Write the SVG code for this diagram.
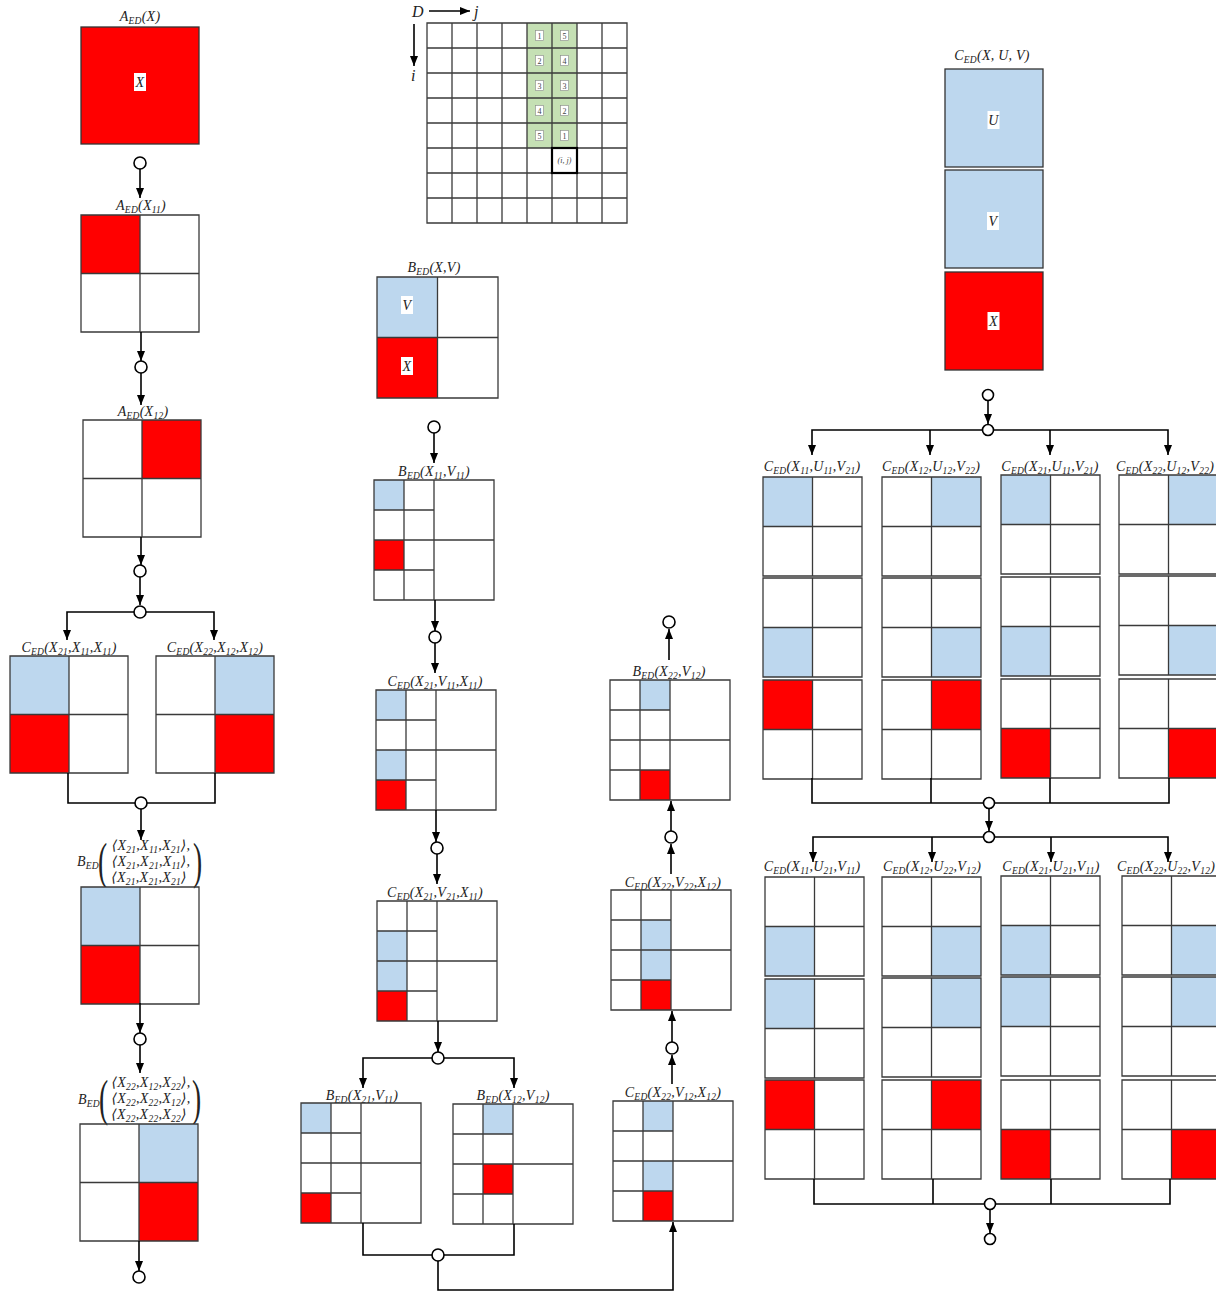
<svg xmlns="http://www.w3.org/2000/svg" xmlns:xlink="http://www.w3.org/1999/xlink" width="1216" height="1294" viewBox="0 0 1216 1294">
<style>
.gl{fill:none;stroke:#3a3a3a;stroke-width:1.3}
.r{fill:#ff0000}
.b{fill:#bdd7ee}
.g{fill:#c5e0b4}
.t{font-family:"Liberation Serif","DejaVu Serif",serif;font-style:italic;font-size:14px;fill:#222;letter-spacing:0.25px}
.s{font-size:9.5px}
.big{font-family:"Liberation Serif","DejaVu Serif",serif;font-size:50px;fill:#222}
.wb{fill:#fff}
.num{font-family:"Liberation Serif",serif;font-size:8px;fill:#444}
.nb{fill:#fff;stroke:#888;stroke-width:0.6}
.cn{fill:none;stroke:#000;stroke-width:1.6}
.ar{fill:none;stroke:#000;stroke-width:1.6;marker-end:url(#a)}
.nd{fill:#fff;stroke:#000;stroke-width:1.6}
</style>
<defs>
<marker id="a" viewBox="0 0 10 10" refX="10" refY="5" markerWidth="10" markerHeight="10" markerUnits="userSpaceOnUse" orient="auto"><path d="M0,1L10,5L0,9Z" fill="#000"/></marker>
<path id="q99" class="gl" d="M0,0H99V99H0Z M49.5,0V99 M0,49.5H99"/>
<path id="q118" class="gl" d="M0,0H118V117H0Z M59,0V117 M0,58.5H118"/>
<path id="q121" class="gl" d="M0,0H121V121H0Z M60.5,0V121 M0,60.5H121"/>
<path id="q4" class="gl" d="M0,0H120V120H0Z M30,0V120 M60,0V120 M0,60H120 M0,30H60 M0,90H60"/>
</defs>
<rect width="1216" height="1294" fill="#fff"/>

<!-- LEFT COLUMN -->
<g id="aX">
<text class="t" x="140" y="21" text-anchor="middle">A<tspan class="s" dy="3">ED</tspan><tspan dy="-3">(X)</tspan></text>
<rect class="r" x="81" y="27" width="118" height="117" stroke="#333" stroke-width="1.3"/>
<rect class="wb" x="134" y="73" width="12" height="18"/>
<text class="t" x="140" y="87" text-anchor="middle">X</text>
</g>
<g id="aX11">
<text class="t" x="141" y="210" text-anchor="middle">A<tspan class="s" dy="3">ED</tspan><tspan dy="-3">(X</tspan><tspan class="s" dy="3">11</tspan><tspan dy="-3">)</tspan></text>
<g transform="translate(81,215)"><rect class="r" width="59" height="58.5"/><use href="#q118"/></g>
</g>
<g id="aX12">
<text class="t" x="143" y="416" text-anchor="middle">A<tspan class="s" dy="3">ED</tspan><tspan dy="-3">(X</tspan><tspan class="s" dy="3">12</tspan><tspan dy="-3">)</tspan></text>
<g transform="translate(83,420)"><rect class="r" x="59" width="59" height="58.5"/><use href="#q118"/></g>
</g>
<g id="cL1">
<text class="t" x="69" y="652" text-anchor="middle">C<tspan class="s" dy="3">ED</tspan><tspan dy="-3">(X</tspan><tspan class="s" dy="3">21</tspan><tspan dy="-3">,X</tspan><tspan class="s" dy="3">11</tspan><tspan dy="-3">,X</tspan><tspan class="s" dy="3">11</tspan><tspan dy="-3">)</tspan></text>
<g transform="translate(10,656)"><rect class="b" width="59" height="58.5"/><rect class="r" y="58.5" width="59" height="58.5"/><use href="#q118"/></g>
</g>
<g id="cL2">
<text class="t" x="215" y="652" text-anchor="middle">C<tspan class="s" dy="3">ED</tspan><tspan dy="-3">(X</tspan><tspan class="s" dy="3">22</tspan><tspan dy="-3">,X</tspan><tspan class="s" dy="3">12</tspan><tspan dy="-3">,X</tspan><tspan class="s" dy="3">12</tspan><tspan dy="-3">)</tspan></text>
<g transform="translate(156,656)"><rect class="b" x="59" width="59" height="58.5"/><rect class="r" x="59" y="58.5" width="59" height="58.5"/><use href="#q118"/></g>
</g>
<g id="bL1">
<text class="t" x="77" y="866">B<tspan class="s" dy="3">ED</tspan></text>
<text class="big" x="98" y="878" transform="translate(98,862) scale(0.55,1) translate(-98,-862)">(</text>
<text class="big" x="193" y="878" transform="translate(193,862) scale(0.55,1) translate(-193,-862)">)</text>
<text class="t" x="151" y="850" text-anchor="middle">⟨X<tspan class="s" dy="3">21</tspan><tspan dy="-3">,X</tspan><tspan class="s" dy="3">11</tspan><tspan dy="-3">,X</tspan><tspan class="s" dy="3">21</tspan><tspan dy="-3">⟩,</tspan></text>
<text class="t" x="151" y="866" text-anchor="middle">⟨X<tspan class="s" dy="3">21</tspan><tspan dy="-3">,X</tspan><tspan class="s" dy="3">21</tspan><tspan dy="-3">,X</tspan><tspan class="s" dy="3">11</tspan><tspan dy="-3">⟩,</tspan></text>
<text class="t" x="149" y="882" text-anchor="middle">⟨X<tspan class="s" dy="3">21</tspan><tspan dy="-3">,X</tspan><tspan class="s" dy="3">21</tspan><tspan dy="-3">,X</tspan><tspan class="s" dy="3">21</tspan><tspan dy="-3">⟩</tspan></text>
<g transform="translate(81,887)"><rect class="b" width="59" height="58.5"/><rect class="r" y="58.5" width="59" height="58.5"/><use href="#q118"/></g>
</g>
<g id="bL2">
<text class="t" x="78" y="1104">B<tspan class="s" dy="3">ED</tspan></text>
<text class="big" x="99" y="1115" transform="translate(99,1099) scale(0.55,1) translate(-99,-1099)">(</text>
<text class="big" x="192" y="1115" transform="translate(192,1099) scale(0.55,1) translate(-192,-1099)">)</text>
<text class="t" x="151" y="1087" text-anchor="middle">⟨X<tspan class="s" dy="3">22</tspan><tspan dy="-3">,X</tspan><tspan class="s" dy="3">12</tspan><tspan dy="-3">,X</tspan><tspan class="s" dy="3">22</tspan><tspan dy="-3">⟩,</tspan></text>
<text class="t" x="151" y="1103" text-anchor="middle">⟨X<tspan class="s" dy="3">22</tspan><tspan dy="-3">,X</tspan><tspan class="s" dy="3">22</tspan><tspan dy="-3">,X</tspan><tspan class="s" dy="3">12</tspan><tspan dy="-3">⟩,</tspan></text>
<text class="t" x="149" y="1119" text-anchor="middle">⟨X<tspan class="s" dy="3">22</tspan><tspan dy="-3">,X</tspan><tspan class="s" dy="3">22</tspan><tspan dy="-3">,X</tspan><tspan class="s" dy="3">22</tspan><tspan dy="-3">⟩</tspan></text>
<g transform="translate(80,1124)"><rect class="b" x="59" width="59" height="58.5"/><rect class="r" x="59" y="58.5" width="59" height="58.5"/><use href="#q118"/></g>
</g>

<!-- MIDDLE TOP GRID -->
<g id="gridD">
<text class="t" x="412" y="17" style="font-size:16px">D</text>
<text class="t" x="474" y="17" style="font-size:16px">j</text>
<text class="t" x="411" y="81" style="font-size:16px">i</text>
<rect class="g" x="527" y="23" width="50" height="125"/>
<path class="gl" d="M427,23H627V223H427Z M452,23V223 M477,23V223 M502,23V223 M527,23V223 M552,23V223 M577,23V223 M602,23V223 M427,48H627 M427,73H627 M427,98H627 M427,123H627 M427,148H627 M427,173H627 M427,198H627"/>
<rect x="552" y="148" width="25" height="25" fill="none" stroke="#000" stroke-width="2.2"/>
<text class="num" x="564.5" y="163" text-anchor="middle" font-style="italic">(i, j)</text>
<g>
<rect class="nb" x="535.5" y="30.5" width="8" height="10"/><text class="num" x="539.5" y="38.5" text-anchor="middle">1</text>
<rect class="nb" x="535.5" y="55.5" width="8" height="10"/><text class="num" x="539.5" y="63.5" text-anchor="middle">2</text>
<rect class="nb" x="535.5" y="80.5" width="8" height="10"/><text class="num" x="539.5" y="88.5" text-anchor="middle">3</text>
<rect class="nb" x="535.5" y="105.5" width="8" height="10"/><text class="num" x="539.5" y="113.5" text-anchor="middle">4</text>
<rect class="nb" x="535.5" y="130.5" width="8" height="10"/><text class="num" x="539.5" y="138.5" text-anchor="middle">5</text>
<rect class="nb" x="560.5" y="30.5" width="8" height="10"/><text class="num" x="564.5" y="38.5" text-anchor="middle">5</text>
<rect class="nb" x="560.5" y="55.5" width="8" height="10"/><text class="num" x="564.5" y="63.5" text-anchor="middle">4</text>
<rect class="nb" x="560.5" y="80.5" width="8" height="10"/><text class="num" x="564.5" y="88.5" text-anchor="middle">3</text>
<rect class="nb" x="560.5" y="105.5" width="8" height="10"/><text class="num" x="564.5" y="113.5" text-anchor="middle">2</text>
<rect class="nb" x="560.5" y="130.5" width="8" height="10"/><text class="num" x="564.5" y="138.5" text-anchor="middle">1</text>
</g>
</g>

<!-- MIDDLE COLUMN -->
<g id="bXV">
<text class="t" x="434" y="272" text-anchor="middle">B<tspan class="s" dy="3">ED</tspan><tspan dy="-3">(X,V)</tspan></text>
<g transform="translate(377,277)"><rect class="b" width="60.5" height="60.5"/><rect class="r" y="60.5" width="60.5" height="60.5"/><use href="#q121"/></g>
<rect class="wb" x="401" y="296" width="12" height="18"/><text class="t" x="407" y="310" text-anchor="middle">V</text>
<rect class="wb" x="401" y="357" width="12" height="18"/><text class="t" x="407" y="371" text-anchor="middle">X</text>
</g>
<g id="bX11V11">
<text class="t" x="434" y="476" text-anchor="middle">B<tspan class="s" dy="3">ED</tspan><tspan dy="-3">(X</tspan><tspan class="s" dy="3">11</tspan><tspan dy="-3">,V</tspan><tspan class="s" dy="3">11</tspan><tspan dy="-3">)</tspan></text>
<g transform="translate(374,480)"><rect class="b" width="30" height="30"/><rect class="r" y="60" width="30" height="30"/><use href="#q4"/></g>
</g>
<g id="cX21V11X11">
<text class="t" x="435" y="686" text-anchor="middle">C<tspan class="s" dy="3">ED</tspan><tspan dy="-3">(X</tspan><tspan class="s" dy="3">21</tspan><tspan dy="-3">,V</tspan><tspan class="s" dy="3">11</tspan><tspan dy="-3">,X</tspan><tspan class="s" dy="3">11</tspan><tspan dy="-3">)</tspan></text>
<g transform="translate(376,690)"><rect class="b" width="30" height="30"/><rect class="b" y="60" width="30" height="30"/><rect class="r" y="90" width="30" height="30"/><use href="#q4"/></g>
</g>
<g id="cX21V21X11">
<text class="t" x="435" y="897" text-anchor="middle">C<tspan class="s" dy="3">ED</tspan><tspan dy="-3">(X</tspan><tspan class="s" dy="3">21</tspan><tspan dy="-3">,V</tspan><tspan class="s" dy="3">21</tspan><tspan dy="-3">,X</tspan><tspan class="s" dy="3">11</tspan><tspan dy="-3">)</tspan></text>
<g transform="translate(377,901)"><rect class="b" y="30" width="30" height="60"/><rect class="r" y="90" width="30" height="30"/><use href="#q4"/></g>
</g>
<g id="bX21V11">
<text class="t" x="362" y="1100" text-anchor="middle">B<tspan class="s" dy="3">ED</tspan><tspan dy="-3">(X</tspan><tspan class="s" dy="3">21</tspan><tspan dy="-3">,V</tspan><tspan class="s" dy="3">11</tspan><tspan dy="-3">)</tspan></text>
<g transform="translate(301,1103)"><rect class="b" width="30" height="30"/><rect class="r" y="90" width="30" height="30"/><use href="#q4"/></g>
</g>
<g id="bX12V12">
<text class="t" x="513" y="1100" text-anchor="middle">B<tspan class="s" dy="3">ED</tspan><tspan dy="-3">(X</tspan><tspan class="s" dy="3">12</tspan><tspan dy="-3">,V</tspan><tspan class="s" dy="3">12</tspan><tspan dy="-3">)</tspan></text>
<g transform="translate(453,1104)"><rect class="b" x="30" width="30" height="30"/><rect class="r" x="30" y="60" width="30" height="30"/><use href="#q4"/></g>
</g>
<g id="cX22V12X12">
<text class="t" x="673" y="1097" text-anchor="middle">C<tspan class="s" dy="3">ED</tspan><tspan dy="-3">(X</tspan><tspan class="s" dy="3">22</tspan><tspan dy="-3">,V</tspan><tspan class="s" dy="3">12</tspan><tspan dy="-3">,X</tspan><tspan class="s" dy="3">12</tspan><tspan dy="-3">)</tspan></text>
<g transform="translate(613,1101)"><rect class="b" x="30" width="30" height="30"/><rect class="b" x="30" y="60" width="30" height="30"/><rect class="r" x="30" y="90" width="30" height="30"/><use href="#q4"/></g>
</g>
<g id="cX22V22X12">
<text class="t" x="673" y="887" text-anchor="middle">C<tspan class="s" dy="3">ED</tspan><tspan dy="-3">(X</tspan><tspan class="s" dy="3">22</tspan><tspan dy="-3">,V</tspan><tspan class="s" dy="3">22</tspan><tspan dy="-3">,X</tspan><tspan class="s" dy="3">12</tspan><tspan dy="-3">)</tspan></text>
<g transform="translate(611,890)"><rect class="b" x="30" y="30" width="30" height="60"/><rect class="r" x="30" y="90" width="30" height="30"/><use href="#q4"/></g>
</g>
<g id="bX22V12">
<text class="t" x="669" y="676" text-anchor="middle">B<tspan class="s" dy="3">ED</tspan><tspan dy="-3">(X</tspan><tspan class="s" dy="3">22</tspan><tspan dy="-3">,V</tspan><tspan class="s" dy="3">12</tspan><tspan dy="-3">)</tspan></text>
<g transform="translate(610,680)"><rect class="b" x="30" width="30" height="30"/><rect class="r" x="30" y="90" width="30" height="30"/><use href="#q4"/></g>
</g>

<!-- RIGHT -->
<g id="cXUV">
<text class="t" x="992" y="60" text-anchor="middle">C<tspan class="s" dy="3">ED</tspan><tspan dy="-3">(X, U, V)</tspan></text>
<rect class="b" x="945" y="69" width="98" height="98" stroke="#333" stroke-width="1.3"/>
<rect class="b" x="945" y="170" width="98" height="98" stroke="#333" stroke-width="1.3"/>
<rect class="r" x="945" y="272" width="98" height="98" stroke="#333" stroke-width="1.3"/>
<rect class="wb" x="987.5" y="111" width="12" height="18"/><text class="t" x="993.5" y="125" text-anchor="middle">U</text>
<rect class="wb" x="987" y="212" width="12" height="18"/><text class="t" x="993" y="226" text-anchor="middle">V</text>
<rect class="wb" x="987.5" y="312" width="12" height="18"/><text class="t" x="993.5" y="326" text-anchor="middle">X</text>
</g>

<g id="r1">
<text class="t" x="812" y="471" text-anchor="middle">C<tspan class="s" dy="3">ED</tspan><tspan dy="-3">(X</tspan><tspan class="s" dy="3">11</tspan><tspan dy="-3">,U</tspan><tspan class="s" dy="3">11</tspan><tspan dy="-3">,V</tspan><tspan class="s" dy="3">21</tspan><tspan dy="-3">)</tspan></text>
<g transform="translate(763,477)"><rect class="b" width="49.5" height="49.5"/><use href="#q99"/></g>
<g transform="translate(763,578)"><rect class="b" y="49.5" width="49.5" height="49.5"/><use href="#q99"/></g>
<g transform="translate(763,680)"><rect class="r" width="49.5" height="49.5"/><use href="#q99"/></g>
</g>
<g id="r2">
<text class="t" x="931" y="471" text-anchor="middle">C<tspan class="s" dy="3">ED</tspan><tspan dy="-3">(X</tspan><tspan class="s" dy="3">12</tspan><tspan dy="-3">,U</tspan><tspan class="s" dy="3">12</tspan><tspan dy="-3">,V</tspan><tspan class="s" dy="3">22</tspan><tspan dy="-3">)</tspan></text>
<g transform="translate(882,477)"><rect class="b" x="49.5" width="49.5" height="49.5"/><use href="#q99"/></g>
<g transform="translate(882,578)"><rect class="b" x="49.5" y="49.5" width="49.5" height="49.5"/><use href="#q99"/></g>
<g transform="translate(882,680)"><rect class="r" x="49.5" width="49.5" height="49.5"/><use href="#q99"/></g>
</g>
<g id="r3">
<text class="t" x="1050" y="471" text-anchor="middle">C<tspan class="s" dy="3">ED</tspan><tspan dy="-3">(X</tspan><tspan class="s" dy="3">21</tspan><tspan dy="-3">,U</tspan><tspan class="s" dy="3">11</tspan><tspan dy="-3">,V</tspan><tspan class="s" dy="3">21</tspan><tspan dy="-3">)</tspan></text>
<g transform="translate(1001,475)"><rect class="b" width="49.5" height="49.5"/><use href="#q99"/></g>
<g transform="translate(1001,577)"><rect class="b" y="49.5" width="49.5" height="49.5"/><use href="#q99"/></g>
<g transform="translate(1001,679)"><rect class="r" y="49.5" width="49.5" height="49.5"/><use href="#q99"/></g>
</g>
<g id="r4">
<text class="t" x="1165" y="471" text-anchor="middle">C<tspan class="s" dy="3">ED</tspan><tspan dy="-3">(X</tspan><tspan class="s" dy="3">22</tspan><tspan dy="-3">,U</tspan><tspan class="s" dy="3">12</tspan><tspan dy="-3">,V</tspan><tspan class="s" dy="3">22</tspan><tspan dy="-3">)</tspan></text>
<g transform="translate(1119,475)"><rect class="b" x="49.5" width="49.5" height="49.5"/><use href="#q99"/></g>
<g transform="translate(1119,576)"><rect class="b" x="49.5" y="49.5" width="49.5" height="49.5"/><use href="#q99"/></g>
<g transform="translate(1119,679)"><rect class="r" x="49.5" y="49.5" width="49.5" height="49.5"/><use href="#q99"/></g>
</g>

<g id="s1">
<text class="t" x="812" y="871" text-anchor="middle">C<tspan class="s" dy="3">ED</tspan><tspan dy="-3">(X</tspan><tspan class="s" dy="3">11</tspan><tspan dy="-3">,U</tspan><tspan class="s" dy="3">21</tspan><tspan dy="-3">,V</tspan><tspan class="s" dy="3">11</tspan><tspan dy="-3">)</tspan></text>
<g transform="translate(765,877)"><rect class="b" y="49.5" width="49.5" height="49.5"/><use href="#q99"/></g>
<g transform="translate(765,979)"><rect class="b" width="49.5" height="49.5"/><use href="#q99"/></g>
<g transform="translate(765,1080)"><rect class="r" width="49.5" height="49.5"/><use href="#q99"/></g>
</g>
<g id="s2">
<text class="t" x="932" y="871" text-anchor="middle">C<tspan class="s" dy="3">ED</tspan><tspan dy="-3">(X</tspan><tspan class="s" dy="3">12</tspan><tspan dy="-3">,U</tspan><tspan class="s" dy="3">22</tspan><tspan dy="-3">,V</tspan><tspan class="s" dy="3">12</tspan><tspan dy="-3">)</tspan></text>
<g transform="translate(882,877)"><rect class="b" x="49.5" y="49.5" width="49.5" height="49.5"/><use href="#q99"/></g>
<g transform="translate(882,978)"><rect class="b" x="49.5" width="49.5" height="49.5"/><use href="#q99"/></g>
<g transform="translate(882,1080)"><rect class="r" x="49.5" width="49.5" height="49.5"/><use href="#q99"/></g>
</g>
<g id="s3">
<text class="t" x="1051" y="871" text-anchor="middle">C<tspan class="s" dy="3">ED</tspan><tspan dy="-3">(X</tspan><tspan class="s" dy="3">21</tspan><tspan dy="-3">,U</tspan><tspan class="s" dy="3">21</tspan><tspan dy="-3">,V</tspan><tspan class="s" dy="3">11</tspan><tspan dy="-3">)</tspan></text>
<g transform="translate(1001,876)"><rect class="b" y="49.5" width="49.5" height="49.5"/><use href="#q99"/></g>
<g transform="translate(1001,977)"><rect class="b" width="49.5" height="49.5"/><use href="#q99"/></g>
<g transform="translate(1001,1080)"><rect class="r" y="49.5" width="49.5" height="49.5"/><use href="#q99"/></g>
</g>
<g id="s4">
<text class="t" x="1166" y="871" text-anchor="middle">C<tspan class="s" dy="3">ED</tspan><tspan dy="-3">(X</tspan><tspan class="s" dy="3">22</tspan><tspan dy="-3">,U</tspan><tspan class="s" dy="3">22</tspan><tspan dy="-3">,V</tspan><tspan class="s" dy="3">12</tspan><tspan dy="-3">)</tspan></text>
<g transform="translate(1122,876)"><rect class="b" x="49.5" y="49.5" width="49.5" height="49.5"/><use href="#q99"/></g>
<g transform="translate(1122,977)"><rect class="b" x="49.5" width="49.5" height="49.5"/><use href="#q99"/></g>
<g transform="translate(1122,1080)"><rect class="r" x="49.5" y="49.5" width="49.5" height="49.5"/><use href="#q99"/></g>
</g>

<!-- CONNECTORS -->
<g id="connectors">
<path class="ar" d="M140,169V198"/>
<path class="ar" d="M141,332V361"/>
<path class="ar" d="M141,373V405"/>
<path class="ar" d="M141,537V565"/>
<path class="ar" d="M140,577V605"/>
<path class="ar" d="M140,612H67V640"/>
<path class="ar" d="M140,612H214V640"/>
<path class="cn" d="M68,773V803H215V773"/>
<path class="ar" d="M141,809V840"/>
<path class="ar" d="M140,1003V1033"/>
<path class="ar" d="M140,1045V1073"/>
<path class="ar" d="M139,1241V1271"/>

<path class="ar" d="M429,11H470"/>
<path class="ar" d="M414,24V66"/>
<path class="ar" d="M434,433V463"/>
<path class="ar" d="M435,600V631"/>
<path class="ar" d="M435,643V673"/>
<path class="ar" d="M436,810V842"/>
<path class="ar" d="M437,854V884"/>
<path class="ar" d="M438,1021V1052"/>
<path class="ar" d="M438,1058H363V1088"/>
<path class="ar" d="M438,1058H514V1088"/>
<path class="cn" d="M363,1223V1255H514V1224"/>
<path class="ar" d="M438,1261V1290H673V1222"/>
<path class="ar" d="M672,1084V1055"/>
<path class="ar" d="M672,1042V1011"/>
<path class="ar" d="M671,874V844"/>
<path class="ar" d="M671,831V801"/>
<path class="ar" d="M669,660V629"/>

<path class="ar" d="M988,401V424"/>
<path class="ar" d="M988,430H812V455"/>
<path class="ar" d="M988,430H1168V455"/>
<path class="ar" d="M930,430V455"/>
<path class="ar" d="M1050,430V455"/>
<path class="cn" d="M812,778V803H1169V778 M931,778V803 M1050,778V803"/>
<path class="ar" d="M989,809V831"/>
<path class="ar" d="M989,837H813V862"/>
<path class="ar" d="M989,837H1168V862"/>
<path class="ar" d="M932,837V862"/>
<path class="ar" d="M1051,837V862"/>
<path class="cn" d="M814,1179V1204H1170V1179 M933,1179V1204 M1051,1179V1204"/>
<path class="ar" d="M990,1210V1233"/>
</g>

<g id="nodes">
<circle class="nd" cx="140" cy="163" r="6"/>
<circle class="nd" cx="141" cy="367" r="6"/>
<circle class="nd" cx="140" cy="571" r="6"/>
<circle class="nd" cx="140" cy="612" r="6"/>
<circle class="nd" cx="141" cy="803" r="6"/>
<circle class="nd" cx="140" cy="1039" r="6"/>
<circle class="nd" cx="139" cy="1277" r="6"/>
<circle class="nd" cx="434" cy="427" r="6"/>
<circle class="nd" cx="435" cy="637" r="6"/>
<circle class="nd" cx="437" cy="848" r="6"/>
<circle class="nd" cx="438" cy="1058" r="6"/>
<circle class="nd" cx="438" cy="1255" r="6"/>
<circle class="nd" cx="672" cy="1048" r="6"/>
<circle class="nd" cx="671" cy="837" r="6"/>
<circle class="nd" cx="669" cy="622" r="6"/>
<circle class="nd" cx="988" cy="395" r="5.5"/>
<circle class="nd" cx="988" cy="430" r="5.5"/>
<circle class="nd" cx="989" cy="803" r="5.5"/>
<circle class="nd" cx="989" cy="837" r="5.5"/>
<circle class="nd" cx="990" cy="1204" r="5.5"/>
<circle class="nd" cx="990" cy="1239" r="5.5"/>
</g>
</svg>
